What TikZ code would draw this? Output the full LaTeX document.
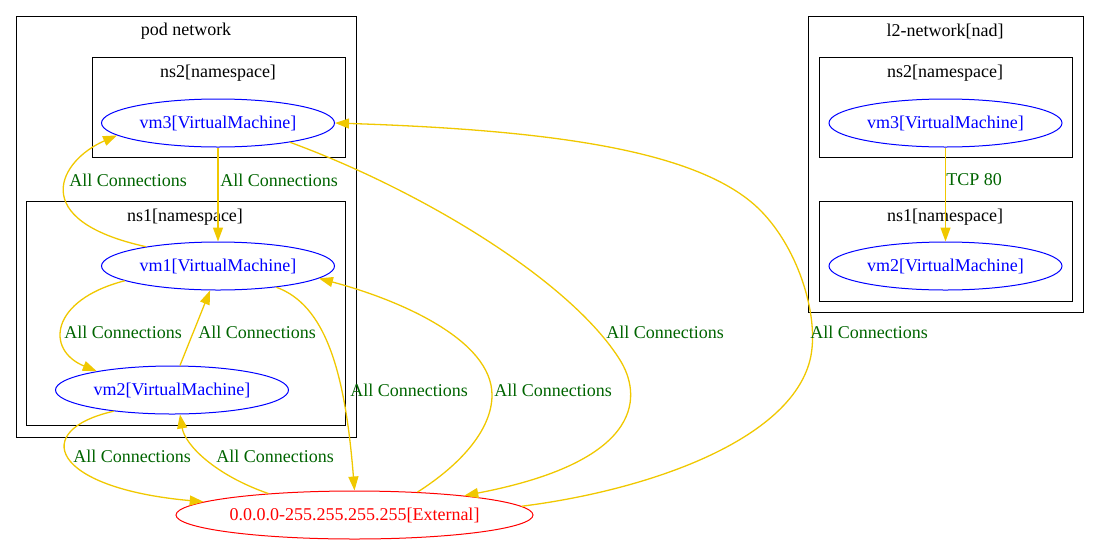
\documentclass[tikz,border=0pt]{standalone}
\usepackage{fontspec}
\setmainfont{Liberation Serif}
\usetikzlibrary{shapes.geometric,arrows.meta}
\definecolor{vmblue}{RGB}{0,0,255}
\definecolor{extred}{RGB}{255,0,0}
\definecolor{conngold}{RGB}{240,200,0}
\definecolor{lblgreen}{RGB}{0,100,0}

\begin{document}
\begin{tikzpicture}[x=1pt,y=-1pt,
	font=\fontsize{18}{22}\selectfont,
	vmnode/.style={ellipse,draw=vmblue,text=vmblue,line width=1pt,minimum width=233pt,minimum height=48pt,inner sep=0pt},
	extnode/.style={vmnode,draw=extred,text=extred,minimum width=357pt},
	cluster/.style={draw=black,line width=1pt},
	conn/.style={draw=conngold,line width=1.3pt,-{Triangle[length=14pt,width=10pt]}},
	connlbl/.style={text=lblgreen,inner sep=0pt}]
\useasboundingbox (0,0) rectangle (1099,544);

% clusters
\draw[cluster] (16,16) rectangle (356,437); %pod network
\draw[cluster] (92,57) rectangle (345,157); %ns2
\draw[cluster] (26,201) rectangle (345,425); %ns1
\draw[cluster] (808,16) rectangle (1083,312); %l2-network
\draw[cluster] (819,57) rectangle (1072,157); %ns2
\draw[cluster] (819,201) rectangle (1072,301); %ns1

\node (podnet) at (186,31) {pod network};
\node (podns2) at (218,73) {ns2[namespace]};
\node (podns1) at (185,217) {ns1[namespace]};
\node (l2net) at (945,31) {l2-network[nad]};
\node (l2ns2) at (945,73) {ns2[namespace]};
\node (l2ns1) at (945,217) {ns1[namespace]};

% vms
\node[vmnode] (vm3) at (218,123) {vm3[VirtualMachine]};
\node[vmnode] (vm1) at (218,266) {vm1[VirtualMachine]};
\node[vmnode] (vm2) at (172,390) {vm2[VirtualMachine]};
\node[extnode] (ext) at (354.5,515) {0.0.0.0-255.255.255.255[External]};
\node[vmnode] (l2vm3) at (945.5,123) {vm3[VirtualMachine]};
\node[vmnode] (l2vm2) at (945.5,266) {vm2[VirtualMachine]};

% connections
\draw[conn] (vm3) -- (vm1);
\draw[conn] (vm1.165.8) .. controls (25,220) and (60,160) .. (vm3.187);
\draw[conn] (vm1.189.6) .. controls (50,300) and (45,350) .. (vm2.166);
\draw[conn] (vm2.72) -- (vm1.252);
\draw[conn] (vm1.340.5) .. controls (325,305) and (345,370) .. (ext.90);
\draw[conn] (ext.20.5) .. controls (460,465) and (492,430) .. (492,395)
	.. controls (492,340) and (400,300) .. (vm1.353.4);
\draw[conn] (vm2.200) .. controls (30,430) and (50,488) .. (ext.175.8);
\draw[conn] (ext.166.6) .. controls (215,475) and (185,445) .. (vm2.288);
\draw[conn] (vm3.345) .. controls (420,190) and (570,280) .. (620,360)
	.. controls (640,392) and (650,460) .. (ext.10.2);
\draw[conn] (ext.3) .. controls (650,490) and (790,440) .. (810,360)
	.. controls (820,320) and (800,250) .. (760,210)
	.. controls (700,150) and (550,130) .. (vm3.east);
\draw[conn] (l2vm3) -- (l2vm2);

% labels
\node[connlbl] (c1) at (128,180) {All Connections};
\node[connlbl] (c2) at (279,180) {All Connections};
\node[connlbl] (c3) at (123,332) {All Connections};
\node[connlbl] (c4) at (257,332) {All Connections};
\node[connlbl] (c5) at (409,390) {All Connections};
\node[connlbl] (c6) at (553,390) {All Connections};
\node[connlbl] (c7) at (665,332) {All Connections};
\node[connlbl] (c8) at (869,332) {All Connections};
\node[connlbl] (c9) at (132,456) {All Connections};
\node[connlbl] (c10) at (275,456) {All Connections};
\node[connlbl] (tcp) at (974,180) {TCP 80};
\end{tikzpicture}
\end{document}
